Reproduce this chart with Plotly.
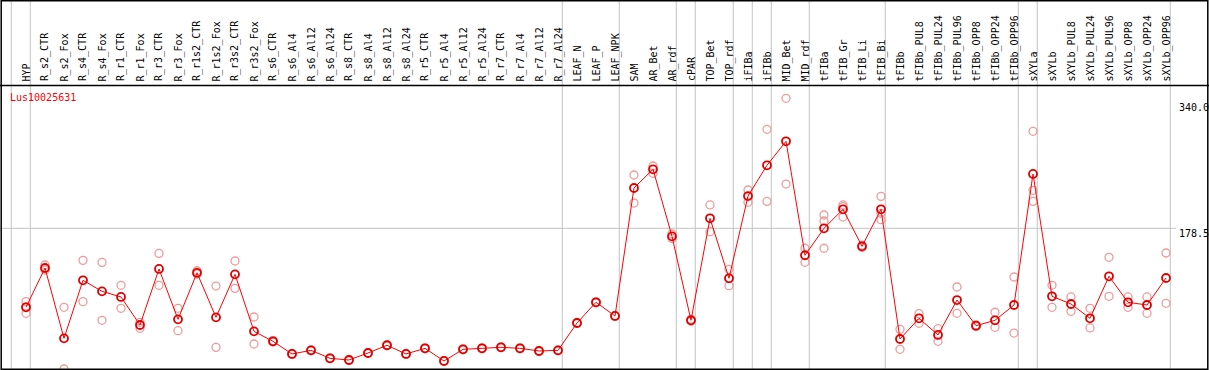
import plotly.graph_objects as go

W, H = 1209, 370

categories = ["HYP", "R_s2_CTR", "R_s2_Fox", "R_s4_CTR", "R_s4_Fox", "R_r1_CTR", "R_r1_Fox",
              "R_r3_CTR", "R_r3_Fox", "R_r1s2_CTR", "R_r1s2_Fox", "R_r3s2_CTR", "R_r3s2_Fox",
              "R_s6_CTR", "R_s6_Al4", "R_s6_Al12", "R_s6_Al24", "R_s8_CTR", "R_s8_Al4", "R_s8_Al12",
              "R_s8_Al24", "R_r5_CTR", "R_r5_Al4", "R_r5_Al12", "R_r5_Al24", "R_r7_CTR", "R_r7_Al4",
              "R_r7_Al12", "R_r7_Al24", "LEAF_N", "LEAF_P", "LEAF_NPK", "SAM", "AR_Bet", "AR_rdf",
              "cPAR", "TOP_Bet", "TOP_rdf", "iFIBa", "iFIBb", "MID_Bet", "MID_rdf", "tFIBa",
              "tFIB_Gr", "tFIB_Li", "tFIB_Bi", "tFIBb", "tFIBb_PUL8", "tFIBb_PUL24", "tFIBb_PUL96",
              "tFIBb_OPP8", "tFIBb_OPP24", "tFIBb_OPP96", "sXYLa", "sXYLb", "sXYLb_PUL8",
              "sXYLb_PUL24", "sXYLb_PUL96", "sXYLb_OPP8", "sXYLb_OPP24", "sXYLb_OPP96"]

mean_values = [80.4, 129.2, 41.8, 113.9, 100.2, 93.2, 58.4, 128.0, 65.4, 123.2, 67.9, 121.3, 50.5,
               38.1, 22.4, 26.9, 17.0, 14.9, 23.6, 33.2, 22.4, 29.4, 13.7, 28.2, 29.4, 30.7, 29.4,
               26.1, 26.9, 60.9, 86.6, 69.6, 228.6, 251.8, 168.5, 64.2, 190.9, 116.4, 218.6, 256.8,
               286.6, 145.0, 178.5, 202.1, 156.1, 202.1, 41.0, 66.7, 46.0, 89.4, 57.5, 64.2, 83.2,
               246.0, 94.0, 84.5, 66.7, 118.9, 86.6, 83.2, 116.8]

rep_a = [87.4, 132.9, 80.4, 138.7, 136.2, 107.7, 61.7, 147.4, 79.1, 125.8, 106.8, 137.9, 68.3,
         39.0, 23.0, 27.5, 17.5, 15.5, 24.0, 33.8, 23.0, 30.0, 14.2, 28.8, 30.0, 31.2, 30.0,
         26.6, 27.4, 61.5, 87.2, 70.2, 244.7, 255.9, 171.4, 65.5, 207.5, 127.6, 226.1, 301.5,
         340.0, 153.7, 195.0, 207.5, 157.5, 218.2, 53.0, 72.5, 53.8, 105.6, 58.5, 74.2, 118.0,
         299.0, 107.7, 93.2, 79.1, 142.5, 93.2, 93.2, 147.8]

rep_b = [72.9, 126.7, 3.7, 87.4, 64.2, 79.1, 54.3, 107.7, 51.3, 121.7, 30.6, 103.9, 34.8,
         37.2, 21.8, 26.3, 16.5, 14.3, 23.2, 32.6, 21.8, 28.8, 13.2, 27.6, 28.8, 30.2, 28.8,
         25.6, 26.4, 60.3, 86.0, 69.0, 209.9, 246.8, 166.0, 63.0, 174.3, 107.2, 210.8, 212.0,
         233.5, 136.3, 153.7, 192.5, 154.7, 189.2, 28.2, 60.5, 38.1, 72.9, 56.5, 55.5, 48.4,
         212.0, 80.4, 75.4, 54.7, 94.0, 80.4, 72.9, 85.3]

rep_c = [81.0] + [None] * 41 + [187.6, 205.4, None, 197.1] + [None] * 7 + [225.7] + [None] * 7

# group separators: after these category indices (-1 = before the first)
separators_after = [-1, 0, 28, 31, 34, 35, 37, 38, 39, 41, 45, 52, 53, 60]

gene = "Lus10025631"
y_max_label = 340.0
y_ref_label = 178.5

xs = list(range(len(categories)))
FONT = "DejaVu Sans Mono"

fig = go.Figure()

for reps in (rep_a, rep_b, rep_c):
    fig.add_trace(go.Scatter(
        x=xs, y=reps, mode="markers",
        marker=dict(symbol="circle-open", size=8, color="#f09a9a", line=dict(width=1.3)),
        hoverinfo="skip", showlegend=False))

fig.add_trace(go.Scatter(
    x=xs, y=mean_values, mode="lines+markers",
    line=dict(color="#ff0000", width=1),
    marker=dict(symbol="circle-open", size=8, color="#e00000", line=dict(width=1.8)),
    showlegend=False))

# scales: 19 px per category, first category at 26 px; value 0 at 372 px, 0.805 px per unit
x0 = -26 / 19
x1 = x0 + W / 19
y_lo = (372 - H) / 0.805
y_hi = 372 / 0.805

shapes = []
for k in separators_after:
    shapes.append(dict(type="line", xref="x", yref="paper", x0=k + 0.226, x1=k + 0.226,
                       y0=0, y1=1, line=dict(color="#c4c4c4", width=1), layer="below"))
shapes.append(dict(type="line", xref="paper", yref="y", x0=0, x1=1176 / W,
                   y0=y_ref_label, y1=y_ref_label, line=dict(color="#c4c4c4", width=1), layer="below"))
# frame
shapes.append(dict(type="rect", xref="paper", yref="paper", x0=1.2 / W, x1=1207.8 / W,
                   y0=1 - 369.2 / H, y1=1 - 0.8 / H, line=dict(color="black", width=1.5)))
shapes.append(dict(type="line", xref="paper", yref="paper", x0=0, x1=1,
                   y0=1 - 85.5 / H, y1=1 - 85.5 / H, line=dict(color="black", width=1.5)))

annotations = []
for k, c in enumerate(categories):
    annotations.append(dict(x=k, y=1 - 83.5 / H, xref="x", yref="paper", text=c, textangle=-90,
                            xanchor="center", yanchor="bottom", showarrow=False,
                            font=dict(family=FONT, size=10, color="black")))
annotations.append(dict(x=8 / W, y=1 - 97.3 / H, xref="paper", yref="paper", text=gene,
                        xanchor="left", yanchor="middle", showarrow=False,
                        font=dict(family=FONT, size=10, color="red")))
annotations.append(dict(x=1177 / W, y=y_max_label, xref="paper", yref="y", text=f"{y_max_label:.1f}",
                        xanchor="left", yanchor="top", yshift=-2, showarrow=False,
                        font=dict(family=FONT, size=10, color="black")))
annotations.append(dict(x=1177 / W, y=y_ref_label, xref="paper", yref="y", text=f"{y_ref_label:.1f}",
                        xanchor="left", yanchor="top", yshift=2, showarrow=False,
                        font=dict(family=FONT, size=10, color="black")))
annotations.append(dict(x=1177 / W, y=0, xref="paper", yref="y", text="0",
                        xanchor="left", yanchor="bottom", yshift=3, showarrow=False,
                        font=dict(family=FONT, size=10, color="black")))

fig.update_layout(
    width=W, height=H, autosize=False,
    margin=dict(l=0, r=0, t=0, b=0, pad=0),
    paper_bgcolor="white", plot_bgcolor="white",
    xaxis=dict(range=[x0, x1], visible=False, fixedrange=True),
    yaxis=dict(range=[y_lo, y_hi], visible=False, fixedrange=True),
    shapes=shapes, annotations=annotations,
    font=dict(family=FONT, size=10),
)

fig.write_html("out.html", config={"displayModeBar": False},
               post_script="document.body.style.margin='0';document.body.style.overflow='hidden';")
